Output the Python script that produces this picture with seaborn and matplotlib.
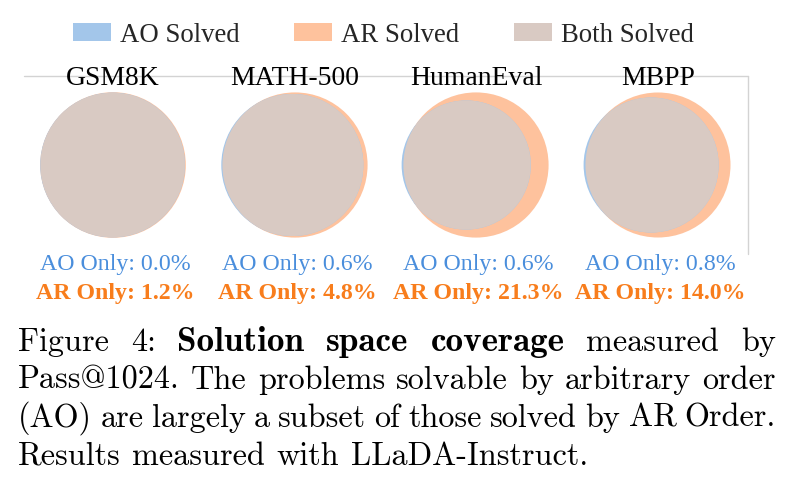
import numpy as np
import matplotlib
matplotlib.use("Agg")
import matplotlib.pyplot as plt
import seaborn as sns
from matplotlib.patches import Circle, Patch

# ---------------- data ----------------
datasets = ["GSM8K", "MATH-500", "HumanEval", "MBPP"]
ao_only = [0.0, 0.6, 0.6, 0.8]      # % of union solved only by AO
ar_only = [1.2, 4.8, 21.3, 14.0]    # % of union solved only by AR
legend_labels = ["AO Solved", "AR Solved", "Both Solved"]

caption_lines = [
    [("Figure", 0), ("4:", 0), ("Solution", 1), ("space", 1), ("coverage", 1),
     ("measured", 0), ("by", 0)],
    [(w, 0) for w in "Pass@1024. The problems solvable by arbitrary order".split()],
    [(w, 0) for w in "(AO) are largely a subset of those solved by AR Order.".split()],
    [(w, 0) for w in "Results measured with LLaDA-Instruct.".split()],
]

# ---------------- style ----------------
sns.set_theme(style="white")
plt.rcParams["font.family"] = ["Liberation Serif", "DejaVu Serif"]

AO_COLOR = "#a3c6ea"
AR_COLOR = "#fec29d"
BOTH_COLOR = "#d9cac3"
AO_TEXT = "#4a8edc"
AR_TEXT = "#f87d1c"

W, H = 799, 481
fig = plt.figure(figsize=(W / 100, H / 100), dpi=100)
ax = fig.add_axes([0, 0, 1, 1])
ax.set_xlim(0, W)
ax.set_ylim(H, 0)
ax.axis("off")


def lens_area(r1, r2, d):
    if d >= r1 + r2:
        return 0.0
    if d <= abs(r1 - r2):
        return np.pi * min(r1, r2) ** 2
    a1 = r1 ** 2 * np.arccos((d * d + r1 * r1 - r2 * r2) / (2 * d * r1))
    a2 = r2 ** 2 * np.arccos((d * d + r2 * r2 - r1 * r1) / (2 * d * r2))
    k = 0.5 * np.sqrt((-d + r1 + r2) * (d + r1 - r2) * (d - r1 + r2) * (d + r1 + r2))
    return a1 + a2 - k


def center_distance(r1, r2, target):
    lo, hi = abs(r1 - r2), r1 + r2
    if target >= np.pi * min(r1, r2) ** 2:
        return lo
    for _ in range(80):
        mid = 0.5 * (lo + hi)
        if lens_area(r1, r2, mid) > target:
            lo = mid
        else:
            hi = mid
    return 0.5 * (lo + hi)


# frame lines
ax.plot([24, 748], [77, 77], color="#d3d3d3", lw=1.0, zorder=0)
ax.plot([748, 748], [77, 255], color="#d3d3d3", lw=1.0, zorder=0)

R0 = 72.8
centers_x = [113, 295, 476, 658]
cy = 166
for name, ao, ar, cx in zip(datasets, ao_only, ar_only, centers_x):
    both = 100 - ao - ar
    area_ao = 100 - ar
    area_ar = 100 - ao
    r_ao = R0 * np.sqrt(area_ao / 100)
    r_ar = R0 * np.sqrt(area_ar / 100)
    unit = np.pi * R0 ** 2 / 100
    d = center_distance(r_ar, r_ao, both * unit)
    c_ar = Circle((cx, cy), r_ar, facecolor=AR_COLOR, edgecolor="none", zorder=1)
    ax.add_patch(c_ar)
    c_ao = Circle((cx - d, cy), r_ao, facecolor=AO_COLOR, edgecolor="none", zorder=2)
    ax.add_patch(c_ao)
    c_both = Circle((cx - d, cy), r_ao, facecolor=BOTH_COLOR, edgecolor="none", zorder=3)
    ax.add_patch(c_both)
    c_both.set_clip_path(c_ar)

    ax.text(cx, 85, name, ha="center", va="baseline", fontsize=19.9, color="black", zorder=5)
    ax.text(cx + 2, 270, f"AO Only: {ao:.1f}%", ha="center", va="baseline",
            fontsize=17.2, color=AO_TEXT, zorder=5)
    ax.text(cx + 2, 299, f"AR Only: {ar:.1f}%", ha="center", va="baseline",
            fontsize=17.2, color=AR_TEXT, fontweight="bold", zorder=5)

# legend
handles = [Patch(facecolor=c, edgecolor="none") for c in (AO_COLOR, AR_COLOR, BOTH_COLOR)]
fig.legend(handles, legend_labels, loc="center", bbox_to_anchor=(383.5 / W, 1 - 36 / H),
           ncol=3, frameon=False, fontsize=19.3, handlelength=1.42, handleheight=0.68,
           handletextpad=0.33, columnspacing=2.05, borderpad=0, borderaxespad=0)

# caption (justified)
renderer = fig.canvas.get_renderer()
baselines = [351, 389, 427, 465]
X0, X1 = 18, 776
CAP_SIZE = 23.2
BOLD_SIZE = 25.3
SPACE = 0.36 * CAP_SIZE * 100 / 72
REG = ["cmr10", "DejaVu Serif"]
BLD = ["cmb10", "DejaVu Serif"]

for li, (words, yb) in enumerate(zip(caption_lines, baselines)):
    texts = []
    for w, bold in words:
        t = ax.text(0, yb, w, fontsize=BOLD_SIZE if bold else CAP_SIZE,
                    family=BLD if bold else REG, ha="left", va="baseline", color="black")
        texts.append(t)
    widths = [t.get_window_extent(renderer).width for t in texts]
    if li < len(caption_lines) - 1:
        gap = (X1 - X0 - sum(widths)) / (len(words) - 1)
    else:
        gap = SPACE
    x = X0
    for t, wd in zip(texts, widths):
        t.set_x(x)
        x += wd + gap

fig.savefig("out.png", dpi=100)
